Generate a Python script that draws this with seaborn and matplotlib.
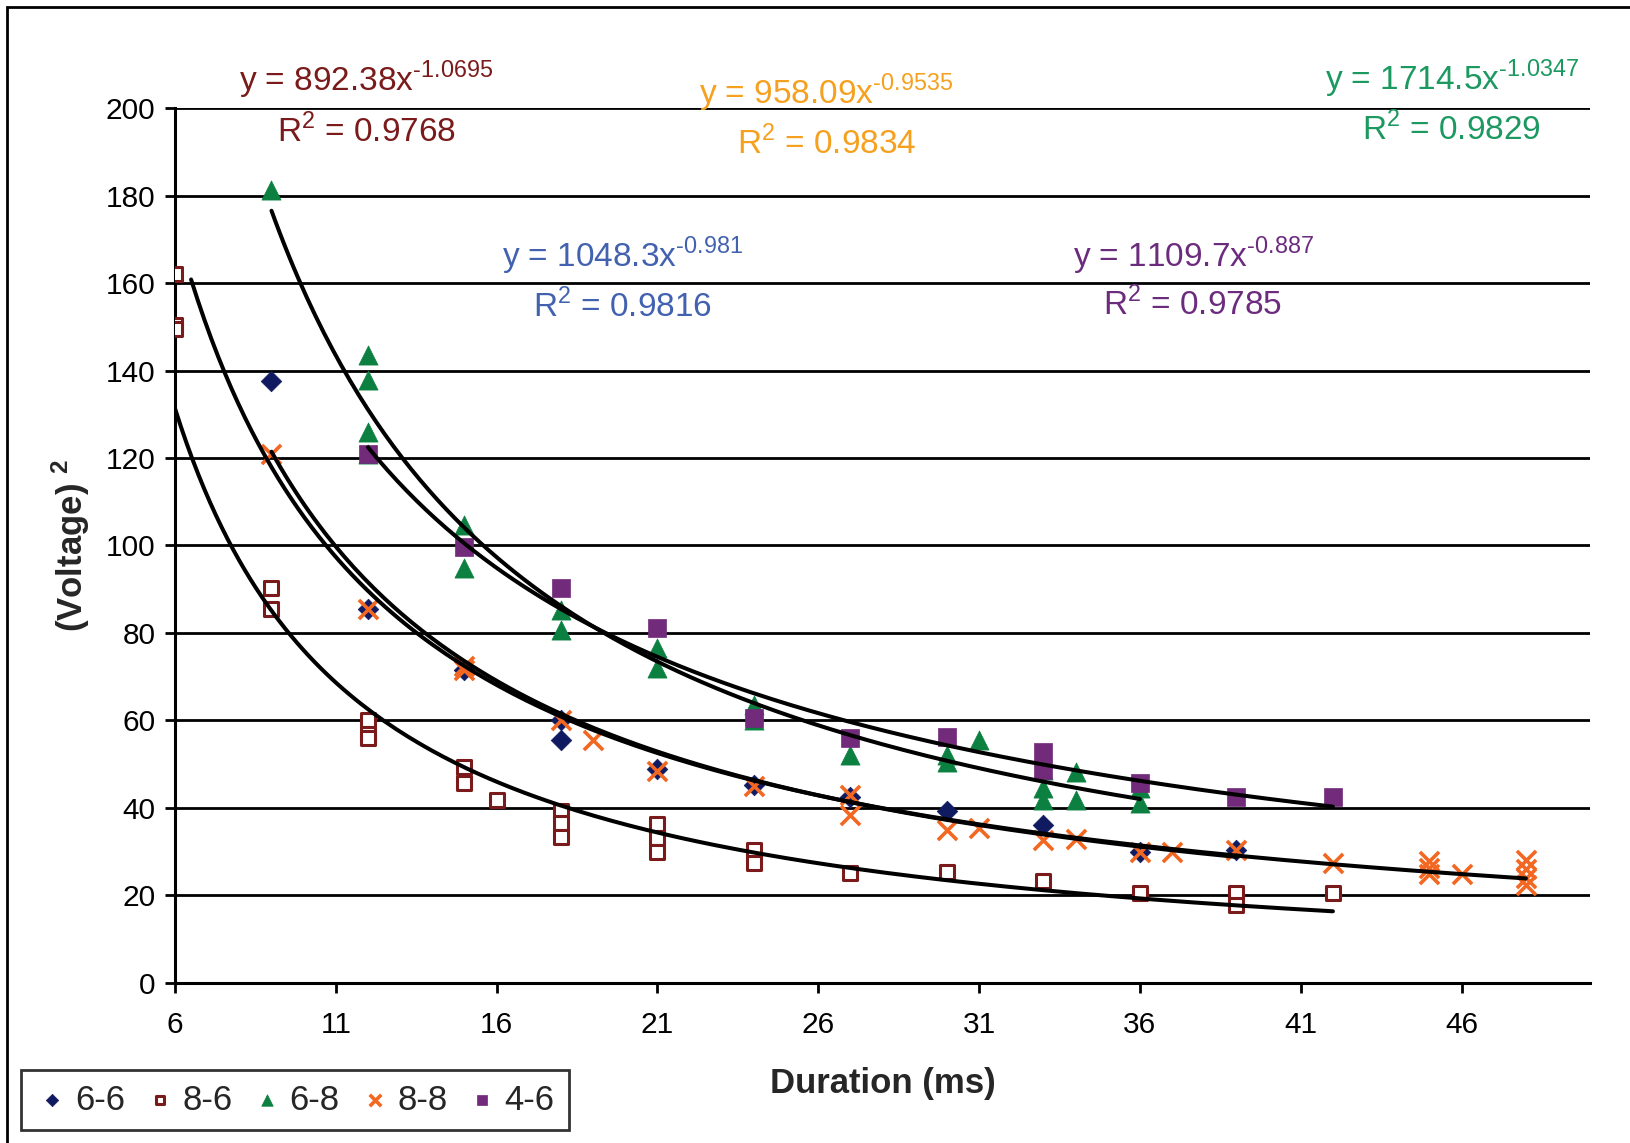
import numpy as np
import pandas as pd
import matplotlib
matplotlib.use("Agg")
import matplotlib.pyplot as plt
from matplotlib.patches import Rectangle
import seaborn as sns

# Series data (duration in ms, voltage squared)
x_66 = [9, 12, 15, 18, 18, 21, 24, 27, 30, 33, 36, 39]
y_66 = [137.5, 85.5, 71.5, 60, 55.5, 49, 45.3, 42.6, 39.2, 36.1, 30, 30.4]

x_86 = [6, 6, 6, 9, 9, 12, 12, 12, 15, 15, 16, 18, 18, 18, 21, 21, 21, 24, 24, 27, 30, 33, 36, 39, 39, 42]
y_86 = [162, 150.5, 149.5, 90.2, 85.4, 60.2, 56.8, 56, 49.4, 45.6, 41.8, 39.2, 36.5, 33.4, 36.3, 33.1, 30,
        30.4, 27.5, 25.2, 25.4, 23.2, 20.5, 20.5, 17.8, 20.5]

x_68 = [9, 12, 12, 12, 12, 15, 15, 18, 18, 21, 21, 24, 24, 27, 30, 30, 31, 33, 33, 33, 34, 34, 36, 36]
y_68 = [181.3, 143.5, 137.8, 126, 121, 104.7, 94.8, 85.3, 80.7, 76.6, 72, 63.5, 60, 52.1, 52, 50.5, 55.5,
        48.6, 44.5, 41.8, 48.3, 41.8, 44.5, 41.1]

x_88 = [9, 12, 15, 15, 18, 19, 21, 24, 27, 27, 30, 31, 33, 34, 36, 37, 39, 42, 45, 45, 45, 46, 48, 48, 48, 48]
y_88 = [121, 85.5, 71.5, 72.5, 60, 55.5, 48.5, 45, 43, 38.5, 35, 35.4, 32.7, 33, 30, 30, 30.4, 27.4, 27.8,
        26.3, 25, 25, 28, 26, 24, 22.4]

x_46 = [12, 15, 18, 21, 24, 27, 30, 33, 33, 36, 39, 42]
y_46 = [121, 99.7, 90.2, 81.1, 60.5, 55.9, 56.2, 52.9, 48.7, 45.6, 42.6, 42.6]

labels = ["6-6", "8-6", "6-8", "8-8", "4-6"]

# Power trend lines y = a * x^b
trend_a = [1048.3, 892.38, 1714.5, 958.09, 1109.7]
trend_b = [-0.981, -1.0695, -1.0347, -0.9535, -0.887]
trend_r2 = [0.9816, 0.9768, 0.9829, 0.9834, 0.9785]
trend_start = [9, 6, 9, 6.5, 12]
trend_end = [39, 42, 36, 48, 42]
a_text = ["1048.3", "892.38", "1714.5", "958.09", "1109.7"]
b_text = ["\u20100.981", "\u20101.0695", "\u20101.0347", "\u20100.9535", "\u20100.887"]

x_ticks = [6, 11, 16, 21, 26, 31, 36, 41, 46]
y_ticks = [0, 20, 40, 60, 80, 100, 120, 140, 160, 180, 200]

marker_colors = ["#0F1A60", "#7B1A1A", "#0C8040", "#F26822", "#722A7A"]
eq_colors = ["#4262B0", "#7A1A1A", "#1B9960", "#F5A01F", "#6C2C7E"]


def main():
    sns.set_style("white")
    plt.rcParams["font.family"] = ["Liberation Sans", "DejaVu Sans"]

    fig = plt.figure(figsize=(16.31, 11.43), dpi=100)
    ax = fig.add_axes([0.1073, 0.140, 0.8677, 0.7655])

    # scatter points per series
    sns.scatterplot(x=x_66, y=y_66, ax=ax, marker="D", s=110, color=marker_colors[0],
                    edgecolor=marker_colors[0], linewidth=0.5, label=labels[0], zorder=3)
    sns.scatterplot(x=x_86, y=y_86, ax=ax, marker="s", s=110, color="white",
                    edgecolor=marker_colors[1], linewidth=2.2, label=labels[1], zorder=3)
    sns.scatterplot(x=x_68, y=y_68, ax=ax, marker="^", s=190, color=marker_colors[2],
                    edgecolor=marker_colors[2], linewidth=0.5, label=labels[2], zorder=3)
    sns.scatterplot(x=x_88, y=y_88, ax=ax, marker="x", s=190, color=marker_colors[3],
                    edgecolor=marker_colors[3], linewidth=2.6, label=labels[3], zorder=3)
    sns.scatterplot(x=x_46, y=y_46, ax=ax, marker="s", s=160, color=marker_colors[4],
                    edgecolor=marker_colors[4], linewidth=0.5, label=labels[4], zorder=3)

    # power trend lines
    for a, b, x0, x1 in zip(trend_a, trend_b, trend_start, trend_end):
        tx = np.linspace(x0, x1, 200)
        trend = pd.DataFrame({"x": tx, "y": a * tx ** b})
        sns.lineplot(data=trend, x="x", y="y", ax=ax, color="black", lw=2.9, zorder=4)

    # equation labels (data coords of their baselines)
    eq_pos = [(19.9, 163.7, 152.3), (11.95, 203.8, 192.1), (45.7, 204.1, 192.7),
              (26.25, 200.9, 189.5), (37.65, 163.6, 152.7)]
    for i, (ex, ey, ry) in enumerate(eq_pos):
        ax.text(ex, ey, "y = " + a_text[i] + "x$^{\\mathregular{" + b_text[i] + "}}$",
                color=eq_colors[i], fontsize=24, ha="center", va="baseline", clip_on=False)
        ax.text(ex, ry, "R$^{\\mathregular{2}}$ = " + f"{trend_r2[i]:.4f}",
                color=eq_colors[i], fontsize=24, ha="center", va="baseline", clip_on=False)

    ax.set_xlim(6, 50)
    ax.set_ylim(0, 200)
    ax.set_xticks(x_ticks)
    ax.set_yticks(y_ticks)
    ax.tick_params(axis="both", labelsize=21.5, direction="out", length=7, width=2,
                   color="black", labelcolor="black", pad=7)
    ax.tick_params(axis="x", pad=13)
    ax.tick_params(left=True, bottom=True)

    ax.grid(False)
    for yv in y_ticks[1:]:
        ax.axhline(yv, color="black", lw=2, zorder=1)

    for side in ["top", "right"]:
        ax.spines[side].set_visible(False)
    for side in ["left", "bottom"]:
        ax.spines[side].set_color("black")
        ax.spines[side].set_linewidth(2.2)

    label_font = ["Liberation Sans Narrow", "Liberation Sans", "DejaVu Sans"]
    ax.set_xlabel("Duration (ms)", fontsize=25, fontweight="bold", family=label_font, labelpad=20)
    ax.set_ylabel("(Voltage) $^{\\mathregular{2}}$", fontsize=25, fontweight="bold", family=label_font,
                  labelpad=10)

    ax.get_legend().remove()
    handles, hl = ax.get_legend_handles_labels()
    handles = handles[:5]
    hl = hl[:5]
    leg = fig.legend(handles, hl, loc="lower left", bbox_to_anchor=(0.013, 0.011), ncol=5,
                     fontsize=25, frameon=True, fancybox=False, edgecolor="black",
                     markerscale=0.6, handletextpad=0.15, columnspacing=0.5, borderpad=0.4,
                     handlelength=1.0, borderaxespad=0)
    leg.get_frame().set_linewidth(2)

    # outer chart border
    fig.patches.append(Rectangle((0.0043, -0.05), 1.1, 1.0439, transform=fig.transFigure,
                                 fill=False, edgecolor="black", lw=2))

    fig.savefig("out.png", dpi=100)
    plt.close(fig)


if __name__ == "__main__":
    main()
